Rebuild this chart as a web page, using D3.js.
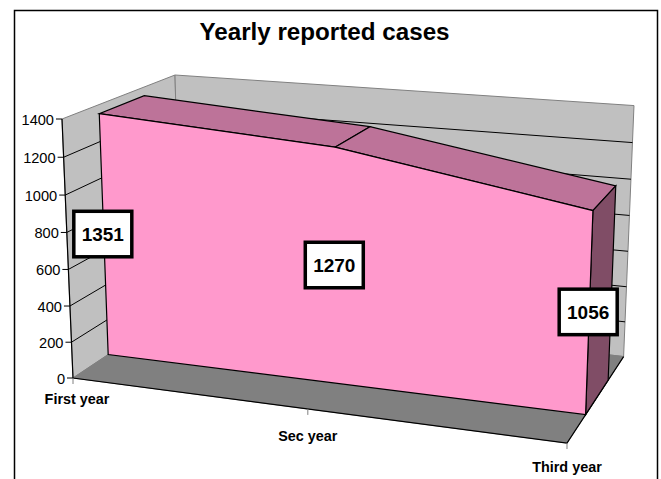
<!DOCTYPE html>
<html>
<head>
<meta charset="utf-8">
<script src="https://cdn.jsdelivr.net/npm/d3@7"></script>
<style>
	html, body { margin: 0; padding: 0; background: #fff; }
	text { font-family: "Liberation Sans", Arial, sans-serif; fill: #000; }
</style>
</head>
<body>
<div id="chart"></div>
<script>
var titleText = "Yearly reported cases";
var categories = ["First year", "Sec year", "Third year"];
var values = [1351, 1270, 1056];
var valueTicks = [0, 200, 400, 600, 800, 1000, 1200, 1400];

var width = 661, height = 479;

// scales go to the unit box of the 3d chart
var u = d3.scalePoint().domain(categories).range([0, 1]);
var v = d3.scaleLinear().domain([0, 1400]).range([0, 1]);
var w = d3.scaleLinear().domain([0, 1]).range([0, 1]); // depth, 0 = front

// camera: box origin and the three axis ends (homogeneous, weight = perspective)
var cam = {
	o: [73, 378, 1],
	x: [440.7, 23.4, -0.094],
	y: [-13.36, -263.52, -0.038],
	z: [131.11, -32.73, 0.128]
};

function project(a, b, c) {
	var p = [0, 1, 2].map(function (i) {
		return cam.o[i] + a * cam.x[i] + b * cam.y[i] + c * cam.z[i];
	});
	return [p[0] / p[2], p[1] / p[2]];
}

// depth of the area inside the box
var areaFront = 0.3, areaBack = 0.7;

var line = d3.line();
function poly(pts) { return line(pts) + "Z"; }

var svg = d3.select("#chart").append("svg")
	.attr("width", width)
	.attr("height", height)
	.style("display", "block");

// chart frame, the bottom edge is cut off in the original
svg.append("path")
	.attr("d", "M14.5,479V10.5H657.5V479")
	.attr("fill", "none")
	.attr("stroke", "#000")
	.attr("stroke-width", 1.5);

svg.append("text")
	.attr("x", 324.5)
	.attr("y", 40)
	.attr("text-anchor", "middle")
	.attr("font-weight", "bold")
	.attr("font-size", 24.2)
	.text(titleText);

var wallColor = "#c0c0c0", floorColor = "#808080", edgeColor = "#808080";

// walls and floor
svg.append("path")
	.attr("d", poly([project(0, 0, 0), project(0, 1, 0), project(0, 1, 1), project(0, 0, 1)]))
	.attr("fill", wallColor).attr("stroke", edgeColor);
svg.append("path")
	.attr("d", poly([project(0, 0, 1), project(0, 1, 1), project(1, 1, 1), project(1, 0, 1)]))
	.attr("fill", wallColor).attr("stroke", edgeColor);
svg.append("path")
	.attr("d", poly([project(0, 0, 0), project(1, 0, 0), project(1, 0, 1), project(0, 0, 1)]))
	.attr("fill", floorColor).attr("stroke", edgeColor);

// gridlines over left wall and back wall
valueTicks.slice(1, -1).forEach(function (t) {
	svg.append("path")
		.attr("d", line([project(0, v(t), 0), project(0, v(t), 1), project(1, v(t), 1)]))
		.attr("fill", "none")
		.attr("stroke", "#000")
		.attr("stroke-width", 1);
});

// axis lines
svg.append("path")
	.attr("d", line([project(0, 1, 0), project(0, 0, 0), project(1, 0, 0), project(1, 0, 1)]))
	.attr("fill", "none")
	.attr("stroke", "#000")
	.attr("stroke-width", 1.2);

// value axis ticks and labels
valueTicks.forEach(function (t) {
	var p = project(0, v(t), 0);
	svg.append("line")
		.attr("x1", p[0] - 6).attr("x2", p[0])
		.attr("y1", p[1]).attr("y2", p[1])
		.attr("stroke", "#000");
	svg.append("text")
		.attr("x", p[0] - 8)
		.attr("y", p[1] + 5.5)
		.attr("text-anchor", "end")
		.attr("font-size", 14.6)
		.text(t);
});

// category ticks and labels
var catLabelOffset = { "First year": [4, 26], "Sec year": [0, 32], "Third year": [0, 29] };
categories.forEach(function (c) {
	var p = project(u(c), 0, 0);
	svg.append("line")
		.attr("x1", p[0]).attr("x2", p[0])
		.attr("y1", p[1]).attr("y2", p[1] + 6)
		.attr("stroke", "#808080");
	svg.append("text")
		.attr("x", p[0] + catLabelOffset[c][0])
		.attr("y", p[1] + catLabelOffset[c][1])
		.attr("text-anchor", "middle")
		.attr("font-weight", "bold")
		.attr("font-size", 14.4)
		.text(c);
});

// area: top faces
d3.pairs(categories.map(function (c, i) { return [u(c), v(values[i])]; })).forEach(function (s) {
	svg.append("path")
		.attr("d", poly([
			project(s[0][0], s[0][1], w(areaFront)),
			project(s[1][0], s[1][1], w(areaFront)),
			project(s[1][0], s[1][1], w(areaBack)),
			project(s[0][0], s[0][1], w(areaBack))
		]))
		.attr("fill", "#bd7399")
		.attr("stroke", "#000")
		.attr("stroke-width", 1.2);
});

// area: right end
var lastU = u(categories[categories.length - 1]), lastV = v(values[values.length - 1]);
svg.append("path")
	.attr("d", poly([
		project(lastU, 0, w(areaFront)),
		project(lastU, lastV, w(areaFront)),
		project(lastU, lastV, w(areaBack)),
		project(lastU, 0, w(areaBack))
	]))
	.attr("fill", "#804d66")
	.attr("stroke", "#000")
	.attr("stroke-width", 1.2);

// area: front face
var frontPts = categories.map(function (c, i) { return project(u(c), v(values[i]), w(areaFront)); });
frontPts.push(project(lastU, 0, w(areaFront)));
frontPts.push(project(0, 0, w(areaFront)));
svg.append("path")
	.attr("d", poly(frontPts))
	.attr("fill", "#ff99cc")
	.attr("stroke", "#000")
	.attr("stroke-width", 1.2);

// data labels in the middle of each value
categories.forEach(function (c, i) {
	var p = project(u(c), v(values[i] / 2), w(areaFront));
	var g = svg.append("g").attr("transform", "translate(" + (p[0] - 1) + "," + (p[1] - 2) + ")");
	g.append("rect")
		.attr("x", -29).attr("y", -23)
		.attr("width", 58).attr("height", 45.5)
		.attr("fill", "#fff")
		.attr("stroke", "#000")
		.attr("stroke-width", 3.5);
	g.append("text")
		.attr("y", 7)
		.attr("text-anchor", "middle")
		.attr("font-weight", "bold")
		.attr("font-size", 19)
		.text(values[i]);
});
</script>
</body>
</html>
